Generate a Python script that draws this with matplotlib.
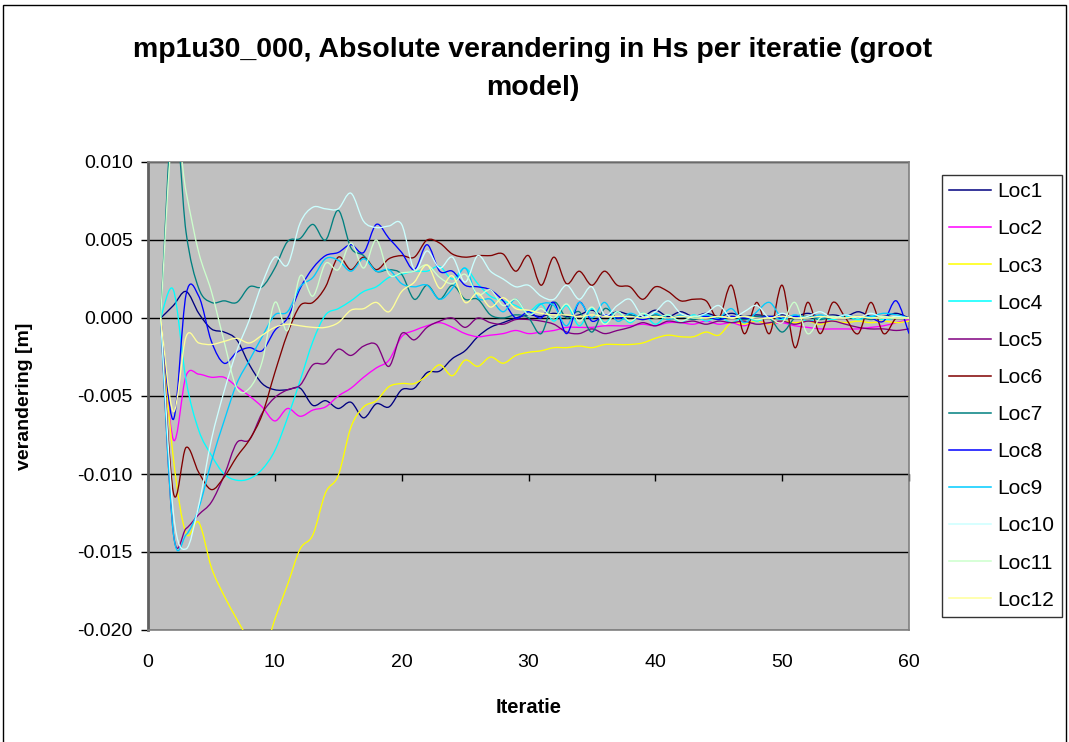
import numpy as np
import matplotlib
matplotlib.use("Agg")
import matplotlib.pyplot as plt
from matplotlib.path import Path
from matplotlib.patches import PathPatch, Rectangle
from matplotlib.lines import Line2D
from matplotlib.ticker import FormatStrFormatter, MultipleLocator

plt.rcParams["font.family"] = ["Liberation Sans", "DejaVu Sans"]
plt.rcParams["axes.unicode_minus"] = False

# ---- data, iteration 1..60 ----
iterations = np.arange(1, 61)

loc1 = [0, 0.0008, 0.0017, 0.0003, -0.0007, -0.0009, -0.0014, -0.003, -0.0042, -0.0046,
        -0.0046, -0.0045, -0.0056, -0.0053, -0.0058, -0.0054, -0.0064, -0.0055, -0.0057, -0.0046,
        -0.0045, -0.0035, -0.0034, -0.0026, -0.0021, -0.0012, -0.0006, -0.0003, 0, 0.0002,
        0.0001, 0.0003, 0.0001, 0.0002, 0.0005, 0.0001, 0.0004, 0.0002, 0.0001, 0.0005,
        0.0001, 0.0004, 0.0001, 0.0003, 0.0001, 0.0003, 0.0001, 0.0002, 0.0001, 0.0002,
        0.0001, 0.0003, 0.0001, 0.0002, 0.0001, 0.0004, 0.0001, 0.0001, 0.0003, 0.0]

loc2 = [0, -0.0078, -0.0037, -0.0036, -0.0038, -0.0038, -0.0044, -0.005, -0.0057, -0.0066,
        -0.0058, -0.0063, -0.0059, -0.0057, -0.005, -0.0045, -0.0038, -0.0032, -0.0027, -0.0012,
        -0.0008, -0.0005, -0.0003, -0.0006, -0.001, -0.0012, -0.0011, -0.001, -0.0008, -0.001,
        -0.0009, -0.0008, -0.0006, -0.0006, -0.0006, -0.0005, -0.0005, -0.0005, -0.0004, -0.0005,
        -0.0003, -0.0003, -0.0004, -0.0002, -0.0004, -0.0003, -0.0005, -0.0002, -0.0004, -0.0003,
        -0.0005, -0.0006, -0.0007, -0.0007, -0.0007, -0.0007, -0.0006, -0.0005, -0.0003, -0.0001]

loc3 = [0, -0.009, -0.0138, -0.0131, -0.016, -0.0178, -0.0193, -0.0207, -0.0218, -0.0193,
        -0.0171, -0.0148, -0.0139, -0.0112, -0.0101, -0.007, -0.0057, -0.0053, -0.0044, -0.0042,
        -0.0042, -0.0037, -0.003, -0.0037, -0.0027, -0.0031, -0.0025, -0.0029, -0.0024, -0.0022,
        -0.0021, -0.0019, -0.0019, -0.0018, -0.0019, -0.0017, -0.0017, -0.0017, -0.0016, -0.0013,
        -0.0011, -0.0012, -0.0012, -0.0009, -0.0011, -0.0003, -0.0004, -0.0002, -0.0004, -0.0002,
        -0.0003, -0.0002, -0.0004, -0.0002, -0.0003, -0.0002, -0.0003, -0.0002, -0.0003, -0.0002]

loc4 = [0, 0.0018, -0.004, -0.0072, -0.0088, -0.01, -0.0104, -0.0103, -0.0097, -0.0085,
        -0.0064, -0.004, -0.0015, 0.0002, 0.0006, 0.0011, 0.0017, 0.002, 0.0026, 0.0028,
        0.003, 0.003, 0.0033, 0.0025, 0.0032, 0.0022, 0.0014, 0.0011, 0.0008, 0.0004,
        0.0009, -0.0002, 0.0008, -0.0005, 0.0006, -0.0003, 0.0004, -0.0003, 0.0003, -0.0004,
        0.0002, -0.0003, 0.0002, -0.0002, 0.0001, -0.0003, 0.0001, -0.0002, 0.0001, -0.0001,
        0.0001, -0.0002, 0.0, -0.0001, 0.0001, -0.0001, 0.0001, -0.0001, 0.0, 0.0]

loc5 = [0, -0.0138, -0.0135, -0.0126, -0.0118, -0.0101, -0.008, -0.0078, -0.0061, -0.0051,
        -0.0046, -0.0043, -0.003, -0.0029, -0.002, -0.0024, -0.0018, -0.0017, -0.0031, -0.001,
        -0.0014, -0.0006, -0.0002, 0, -0.0006, 0, -0.0003, -0.0004, -0.0001, -0.0001,
        -0.0002, -0.0004, -0.0009, -0.001, -0.0007, -0.001, -0.0008, -0.0006, -0.0003, -0.0005,
        -0.0002, -0.0003, -0.0002, -0.0004, -0.0002, -0.0003, -0.0002, -0.0004, -0.0003, -0.0002,
        -0.0004, -0.0002, -0.0003, -0.0002, -0.0004, -0.0006, -0.0007, -0.0007, -0.0008, -0.0007]

loc6 = [0, -0.0112, -0.0083, -0.0099, -0.011, -0.0102, -0.0089, -0.0078, -0.0062, -0.0035,
        -0.001, 0.0008, 0.001, 0.002, 0.0039, 0.0031, 0.0039, 0.0031, 0.0038, 0.004,
        0.0039, 0.005, 0.0048, 0.0041, 0.0039, 0.004, 0.004, 0.0041, 0.003, 0.004,
        0.0021, 0.0039, 0.0022, 0.003, 0.0021, 0.003, 0.0021, 0.002, 0.0012, 0.002,
        0.0017, 0.0011, 0.0012, 0.0011, 0.0, 0.0021, -0.001, 0.001, -0.001, 0.0021,
        -0.0019, 0.001, -0.001, 0.001, 0.0, -0.001, 0.001, -0.001, 0.0, 0.0]

loc7 = [0, 0.0135, 0.0055, 0.0019, 0.001, 0.0011, 0.001, 0.002, 0.002, 0.0032,
        0.0049, 0.0051, 0.006, 0.005, 0.0069, 0.0045, 0.004, 0.003, 0.0031, 0.0028,
        0.0012, 0.0021, 0.0012, 0.0021, 0.0012, 0.0012, 0.0002, 0.0, 0.0002, 0.0,
        -0.001, 0.001, 0.0, 0.0004, -0.0009, 0.0006, 0.0, 0.0002, -0.0001, 0.0002,
        0.0, 0.0001, -0.0001, 0.0001, -0.0001, 0.0001, -0.0001, 0.0001, 0.0, -0.0009,
        0.0, 0.0001, -0.0001, 0.0001, 0.0, 0.0001, -0.0001, 0.0001, 0.0, 0.0]

loc8 = [0, -0.0065, 0.0015, 0.0014, -0.0015, -0.0029, -0.0022, -0.0019, -0.0021, -0.0008,
        0.0, 0.0019, 0.0032, 0.004, 0.0042, 0.0047, 0.0042, 0.006, 0.0051, 0.0042,
        0.0031, 0.0047, 0.003, 0.003, 0.0021, 0.002, 0.0018, 0.0011, 0.0, 0.0004,
        0.0, 0.001, -0.001, 0.001, -0.0002, 0.0002, 0.0, 0.0001, -0.0001, 0.0001,
        0.0, 0.0001, 0.0, 0.0001, -0.0001, 0.0001, 0.0, 0.0, 0.0001, 0.0,
        0.0001, 0.0, 0.0001, 0.0, 0.0, 0.0001, 0.0, -0.0002, 0.0011, -0.001]

loc9 = [0, -0.0138, -0.0139, -0.0122, -0.0092, -0.0066, -0.0042, -0.0027, -0.0012, 0.0002,
        0.0004, 0.002, 0.0026, 0.0038, 0.0037, 0.003, 0.0038, 0.003, 0.0031, 0.0022,
        0.002, 0.0021, 0.0012, 0.0019, 0.0032, 0.0013, 0.0012, 0.0004, 0.0012, 0.0002,
        0.0009, 0.0008, -0.0005, 0.001, 0.0, 0.001, -0.0002, 0.0003, 0.0, 0.0003,
        -0.0001, 0.0002, 0.0, 0.0002, 0.0, 0.0006, -0.0003, 0.0004, 0.001, 0.0,
        0.0002, 0.0, 0.0002, 0.0, 0.0002, 0.0, 0.0001, 0.0003, 0.0002, 0.0]

loc10 = [0, -0.0125, -0.0148, -0.012, -0.0078, -0.0047, -0.0021, -0.0001, 0.0022, 0.0039,
         0.0034, 0.0061, 0.0071, 0.007, 0.007, 0.008, 0.0062, 0.0058, 0.0059, 0.006,
         0.0031, 0.0043, 0.0032, 0.0039, 0.0023, 0.004, 0.003, 0.0025, 0.002, 0.0021,
         0.0014, 0.0012, 0.0021, 0.0012, 0.002, 0.0002, 0.0008, 0.0012, 0.0001, 0.0004,
         0.0011, 0.0003, 0.0001, 0.0003, 0.0008, 0.0, 0.0004, 0.0008, 0.0, 0.0003,
         0.0, 0.0001, 0.0004, 0.0, 0.0002, 0.0, 0.0003, 0.0, 0.0001, 0.0]

loc11 = [0, 0.0125, 0.0081, 0.0042, 0.0017, -0.0015, -0.0045, -0.0045, -0.0028, 0.001,
         -0.0008, 0.0027, 0.0014, 0.0035, 0.0031, 0.0048, 0.0032, 0.005, 0.0028, 0.0029,
         0.003, 0.0034, 0.0026, 0.0022, 0.0028, 0.0015, 0.0018, 0.0008, 0.0012, 0.0002,
         0.0006, 0.0, 0.0009, -0.0002, 0.0007, -0.0004, 0.0004, -0.0002, 0.0003, 0.0,
         0.0002, -0.0002, 0.0001, 0.0, 0.0001, 0.0, 0.0001, -0.0001, 0.0, -0.0003,
         0.001, -0.001, 0.0, 0.0001, 0.0, 0.0001, 0.0, 0.0001, 0.0, 0.0]

loc12 = [0, -0.006, -0.0012, -0.0016, -0.0017, -0.0015, -0.0013, -0.0016, -0.0011, -0.0006,
         -0.0004, -0.0005, -0.0006, -0.0006, -0.0003, 0.0005, 0.0006, 0.001, 0.0004, 0.0017,
         0.0023, 0.0034, 0.0019, 0.0027, 0.001, 0.0016, 0.0007, 0.0013, 0.0006, 0.0005,
         0.0003, 0.0002, 0.0002, 0.0001, 0.0002, 0.0001, 0.0001, 0.0001, 0.0, 0.0001,
         0.0, 0.0001, 0.0, 0.0, 0.0001, 0.0, 0.0001, 0.0, 0.0, 0.0001,
         0.0, 0.0, 0.0001, 0.0, 0.0, 0.0001, 0.0, 0.0, 0.0, 0.0]

series = [loc1, loc2, loc3, loc4, loc5, loc6, loc7, loc8, loc9, loc10, loc11, loc12]
labels = ["Loc1", "Loc2", "Loc3", "Loc4", "Loc5", "Loc6",
          "Loc7", "Loc8", "Loc9", "Loc10", "Loc11", "Loc12"]
colors = ["#000080", "#FF00FF", "#FFFF00", "#00FFFF", "#800080", "#800000",
          "#008080", "#0000FF", "#00CCFF", "#CCFFFF", "#CCFFCC", "#FFFF99"]


def smooth_path(x, y):
    # excel-style smoothed line: catmull-rom segments as cubic beziers
    x = np.asarray(x, float)
    y = np.asarray(y, float)
    n = len(x)
    verts = [(x[0], y[0])]
    codes = [Path.MOVETO]
    for i in range(n - 1):
        j0 = max(i - 1, 0)
        j3 = min(i + 2, n - 1)
        c1 = (x[i] + (x[i + 1] - x[j0]) / 6, y[i] + (y[i + 1] - y[j0]) / 6)
        c2 = (x[i + 1] - (x[j3] - x[i]) / 6, y[i + 1] - (y[j3] - y[i]) / 6)
        verts += [c1, c2, (x[i + 1], y[i + 1])]
        codes += [Path.CURVE4] * 3
    return Path(verts, codes)


fig = plt.figure(figsize=(10.69, 7.42), dpi=100)
ax = fig.add_axes([148 / 1069, 1 - 630 / 742, (909 - 148) / 1069, (630 - 162) / 742])
ax.set_facecolor("#C0C0C0")

for vals, col in zip(series, colors):
    ax.add_patch(PathPatch(smooth_path(iterations, vals), fill=False,
                           edgecolor=col, lw=0.95, zorder=3))

ax.set_xlim(0, 60)
ax.set_ylim(-0.020, 0.010)
ax.yaxis.set_major_locator(MultipleLocator(0.005))
ax.yaxis.set_major_formatter(FormatStrFormatter("%.3f"))
ax.xaxis.set_major_locator(MultipleLocator(10))
ax.grid(axis="y", color="black", lw=1.0, zorder=1)
ax.set_axisbelow(True)

for side in ["top", "right", "bottom"]:
    ax.spines[side].set_color("#808080")
    ax.spines[side].set_linewidth(1.2)
ax.spines["left"].set_color("#606060")
ax.spines["left"].set_linewidth(2.0)

ax.tick_params(axis="y", direction="out", length=5, width=1, pad=6, labelsize=14)
ax.tick_params(axis="x", length=0, pad=17, labelsize=14)

# category axis crosses at -0.010, labels sit low
sec = ax.secondary_xaxis(1 / 3)
sec.xaxis.set_major_locator(MultipleLocator(10))
sec.tick_params(axis="x", direction="out", length=5, width=1, labelbottom=False, labeltop=False)
sec.spines["bottom"].set_color("black")
sec.spines["top"].set_visible(False)

ax.set_xlabel("Iteratie", fontsize=14.5, fontweight="bold", labelpad=20)
ax.set_ylabel("verandering [m]", fontsize=14, fontweight="bold", labelpad=32)

fig.text(533 / 1069, 1 - 50 / 742, "mp1u30_000, Absolute verandering in Hs per iteratie (groot",
         ha="center", va="center", fontsize=20.5, fontweight="bold")
fig.text(533 / 1069, 1 - 88 / 742, "model)",
         ha="center", va="center", fontsize=20.5, fontweight="bold")

handles = [Line2D([], [], color=c, lw=1.1) for c in colors]
leg = fig.legend(handles, labels, loc="upper left",
                 bbox_to_anchor=(942 / 1069, 1 - 175 / 742), bbox_transform=fig.transFigure,
                 borderaxespad=0, fontsize=15, frameon=True, fancybox=False,
                 edgecolor="black", handlelength=2.0, handletextpad=0.3,
                 labelspacing=0.87, borderpad=0.35)
leg.get_frame().set_linewidth(1.0)

fig.patches.append(Rectangle((3 / 1069, -0.01), 1 - 6 / 1069, 1 - 5 / 742 + 0.01,
                             transform=fig.transFigure, fill=False,
                             edgecolor="black", lw=1.0))

fig.savefig("out.png", dpi=100)
